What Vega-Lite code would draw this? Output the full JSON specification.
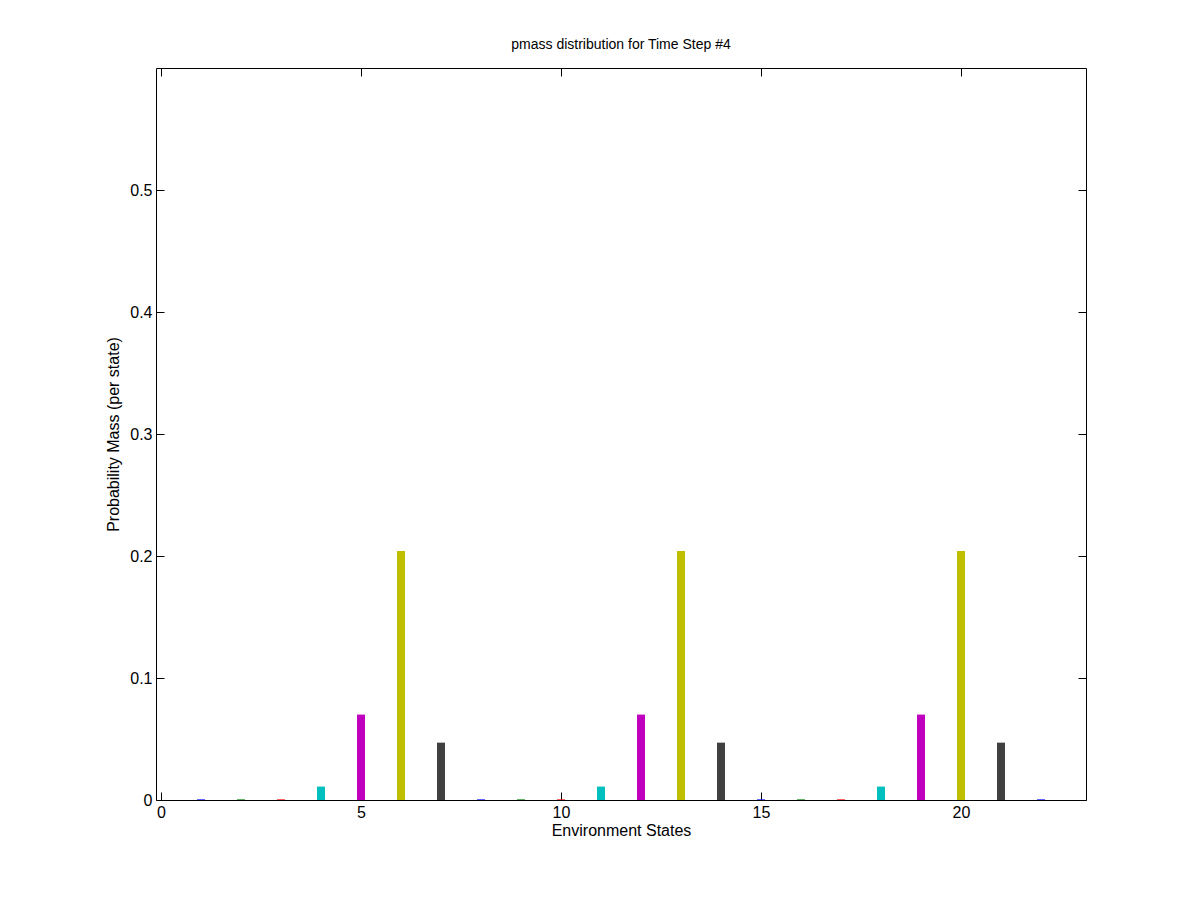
{
  "$schema": "https://vega.github.io/schema/vega-lite/v6.json",
  "width": 930,
  "height": 732,
  "autosize": "none",
  "padding": {"left": 156, "top": 68, "right": 114, "bottom": 100},
  "background": "#ffffff",
  "view": {"stroke": "#000000", "strokeWidth": 1},
  "title": {"text": "pmass distribution for Time Step #4", "font": "Liberation Sans", "fontSize": 14, "fontWeight": "normal", "color": "#000000", "offset": 16},
  "config": {
    "axis": {"labelFont": "Liberation Sans", "titleFont": "Liberation Sans", "labelFontSize": 16, "titleFontSize": 16, "titleFontWeight": "normal", "labelColor": "#000000", "titleColor": "#000000", "tickColor": "#000000", "domain": false, "grid": false, "tickSize": -8, "labelPadding": 12}
  },
  "data": {"values": [
    {"state": 1, "p": 0.0005, "c": "a"}, {"state": 2, "p": 0.0005, "c": "b"}, {"state": 3, "p": 0.0005, "c": "c"},
    {"state": 4, "p": 0.011, "c": "d"}, {"state": 5, "p": 0.070, "c": "e"}, {"state": 6, "p": 0.204, "c": "f"}, {"state": 7, "p": 0.047, "c": "g"},
    {"state": 8, "p": 0.0005, "c": "a"}, {"state": 9, "p": 0.0005, "c": "b"}, {"state": 10, "p": 0.0005, "c": "c"},
    {"state": 11, "p": 0.011, "c": "d"}, {"state": 12, "p": 0.070, "c": "e"}, {"state": 13, "p": 0.204, "c": "f"}, {"state": 14, "p": 0.047, "c": "g"},
    {"state": 15, "p": 0.0005, "c": "a"}, {"state": 16, "p": 0.0005, "c": "b"}, {"state": 17, "p": 0.0005, "c": "c"},
    {"state": 18, "p": 0.011, "c": "d"}, {"state": 19, "p": 0.070, "c": "e"}, {"state": 20, "p": 0.204, "c": "f"}, {"state": 21, "p": 0.047, "c": "g"},
    {"state": 22, "p": 0.0005, "c": "a"}
  ]},
  "resolve": {"axis": {"x": "independent", "y": "independent"}},
  "layer": [
    {
      "mark": {"type": "bar", "size": 8},
      "encoding": {
        "x": {"field": "state", "type": "quantitative", "scale": {"domain": [0, 23], "nice": false}, "axis": {"orient": "bottom", "title": "Environment States", "values": [0, 5, 10, 15, 20], "titlePadding": 2}},
        "y": {"field": "p", "type": "quantitative", "scale": {"domain": [0, 0.6], "nice": false}, "axis": {"orient": "left", "title": "Probability Mass (per state)", "values": [0, 0.1, 0.2, 0.3, 0.4, 0.5], "format": "~g", "titlePadding": 8}},
        "color": {"field": "c", "type": "nominal", "legend": null, "scale": {"domain": ["a","b","c","d","e","f","g"], "range": ["#0000ff","#008000","#ff0000","#00bfbf","#bf00bf","#bfbf00","#404040"]}}
      }
    },
    {
      "mark": {"type": "rule", "opacity": 0},
      "encoding": {
        "x": {"field": "state", "type": "quantitative", "axis": {"orient": "top", "title": null, "labels": false, "values": [0, 5, 10, 15, 20]}},
        "y": {"field": "p", "type": "quantitative", "axis": {"orient": "right", "title": null, "labels": false, "values": [0, 0.1, 0.2, 0.3, 0.4, 0.5]}}
      }
    }
  ]
}
